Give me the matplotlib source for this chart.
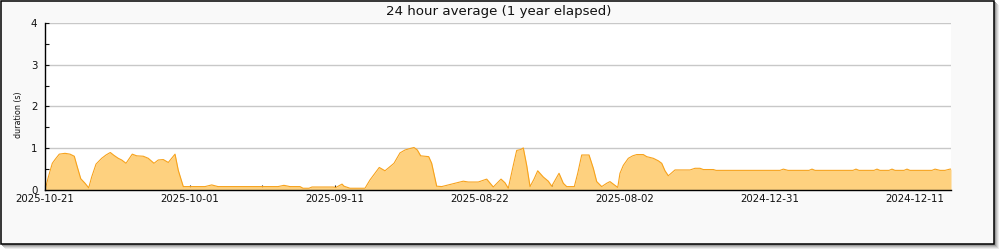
import matplotlib
matplotlib.use("Agg")
import matplotlib.pyplot as plt
from matplotlib.patches import Rectangle
from matplotlib.ticker import MultipleLocator, FixedLocator

# x position in days from the left edge
days = [
    0.07, 0.46, 1.01, 1.38, 1.97, 2.76, 3.45, 4.04, 4.46, 4.93, 5.52, 6.03,
    6.44, 7.04, 7.82, 8.42, 9.01, 9.52, 10.11, 10.58, 11.18, 12.04, 12.65,
    13.56, 14.25, 15.04, 15.63, 16.32, 17.01, 17.94, 18.39, 19.08, 20.10,
    22.08, 23.0, 23.87, 32.15, 32.97, 33.8, 35.18, 35.6, 36.42, 36.84, 39.74,
    40.15, 40.98, 41.25, 42.08, 44.15, 44.84, 45.53, 46.12, 46.91, 47.6,
    48.15, 48.98, 49.67, 50.46, 50.91, 51.37, 51.83, 52.94, 53.35, 54.04,
    54.73, 55.64, 56.8, 57.71, 58.4, 59.78, 60.94, 61.85, 62.92, 63.47,
    63.92, 64.61, 65.08, 65.63, 65.99, 66.46, 66.92, 67.47, 67.98, 68.75,
    69.44, 69.91, 70.46, 70.92, 71.51, 71.98, 73.03, 73.5, 74.05, 75.06,
    75.65, 76.12, 76.81, 77.5, 77.95, 78.41, 79.02, 79.33, 79.79, 80.48,
    81.09, 81.64, 82.55, 83.02, 83.93, 84.62, 85.09, 85.54, 86.0, 86.47,
    86.92, 88.99, 89.68, 90.37, 90.83, 92.21, 92.58, 101.41, 101.87, 102.51,
    105.41, 105.82, 106.24, 111.48, 111.89, 112.31, 114.38, 114.79, 115.2,
    116.45, 116.86, 117.27, 118.52, 118.93, 119.34, 122.38, 122.8, 123.49,
    124.17, 124.86, 125.0,
]
# 24 hour average duration (s)
duration = [
    0.03, 0.30, 0.63, 0.72, 0.85, 0.87, 0.85, 0.80, 0.54, 0.26, 0.15, 0.04,
    0.30, 0.61, 0.75, 0.83, 0.89, 0.82, 0.75, 0.71, 0.63, 0.85, 0.81,
    0.80, 0.75, 0.63, 0.71, 0.72, 0.65, 0.85, 0.46, 0.07, 0.07,
    0.07, 0.11, 0.07, 0.07, 0.10, 0.07, 0.07, 0.03, 0.03, 0.06, 0.06,
    0.05, 0.13, 0.08, 0.03, 0.03, 0.23, 0.39, 0.53, 0.45, 0.55,
    0.63, 0.88, 0.95, 0.99, 1.01, 0.95, 0.81, 0.79, 0.63, 0.08,
    0.07, 0.11, 0.16, 0.20, 0.18, 0.18, 0.25, 0.06, 0.25, 0.16,
    0.03, 0.58, 0.94, 0.96, 1.00, 0.58, 0.07, 0.25, 0.45, 0.30,
    0.20, 0.08, 0.25, 0.39, 0.15, 0.07, 0.07, 0.39, 0.83, 0.83,
    0.51, 0.19, 0.07, 0.15, 0.19, 0.13, 0.05, 0.39, 0.58, 0.75,
    0.81, 0.84, 0.84, 0.79, 0.75, 0.69, 0.63, 0.45, 0.33, 0.40,
    0.47, 0.47, 0.51, 0.51, 0.48, 0.48, 0.46, 0.46, 0.49, 0.46,
    0.46, 0.49, 0.46, 0.46, 0.49, 0.46, 0.46, 0.49, 0.46,
    0.46, 0.49, 0.46, 0.46, 0.49, 0.46, 0.46, 0.49, 0.46,
    0.46, 0.49, 0.49,
]

tick_days = [0, 20, 40, 60, 80, 100, 120]
tick_labels = ["2025-10-21", "2025-10-01", "2025-09-11", "2025-08-22",
               "2025-08-02", "2024-12-31", "2024-12-11"]

fig = plt.figure(figsize=(10, 2.5), dpi=100, facecolor="white")

# drop shadow and frame, kept behind the axes
for off, shade in [(5, "#ececec"), (4, "#d6d6d6"), (3, "#bdbdbd"), (2, "#9c9c9c")]:
    fig.patches.append(Rectangle((off / 1000, 0.026 - off / 250), 0.994, 0.974,
                                 transform=fig.transFigure, facecolor=shade,
                                 edgecolor="none", zorder=-3))
fig.patches.append(Rectangle((0.001, 0.026), 0.993, 0.972, transform=fig.transFigure,
                             facecolor="#f9f9f9", edgecolor="black", linewidth=1.1,
                             zorder=-2))

ax = fig.add_axes([0.045, 0.242, 0.906, 0.667])
ax.set_facecolor("white")
ax.fill_between(days, duration, 0, color="#fed17f", linewidth=0, zorder=2)
ax.plot(days, duration, color="#f7a21b", linewidth=0.8, zorder=3)

ax.set_xlim(0, 125)
ax.set_ylim(0, 4.01)
ax.xaxis.set_major_locator(FixedLocator(tick_days))
ax.set_xticklabels(tick_labels)
ax.xaxis.set_minor_locator(MultipleLocator(10))
ax.yaxis.set_major_locator(FixedLocator([0, 1, 2, 3, 4]))
ax.yaxis.set_minor_locator(MultipleLocator(0.5))

ax.grid(axis="y", color="#c8c8c8", linewidth=1.0, zorder=1)
ax.set_axisbelow(True)
for side in ["top", "right"]:
    ax.spines[side].set_visible(False)
for side in ["left", "bottom"]:
    ax.spines[side].set_linewidth(1.0)
    ax.spines[side].set_zorder(4)

ax.tick_params(axis="x", which="both", direction="in", length=3.6, width=0.8,
               labelsize=7.4, pad=3, colors="#111111")
ax.tick_params(axis="y", which="both", direction="in", length=2.6, width=0.8,
               labelsize=7.4, pad=5.5, colors="#111111")

fig.text(0.499, 0.938, "24 hour average (1 year elapsed)", ha="center",
         va="baseline", fontsize=9.6, color="#111111")
fig.text(0.019, 0.54, "duration (s)", ha="center", va="center", rotation=90,
         fontsize=5.8, color="#111111")

fig.savefig("out.png", dpi=100, facecolor="white")
